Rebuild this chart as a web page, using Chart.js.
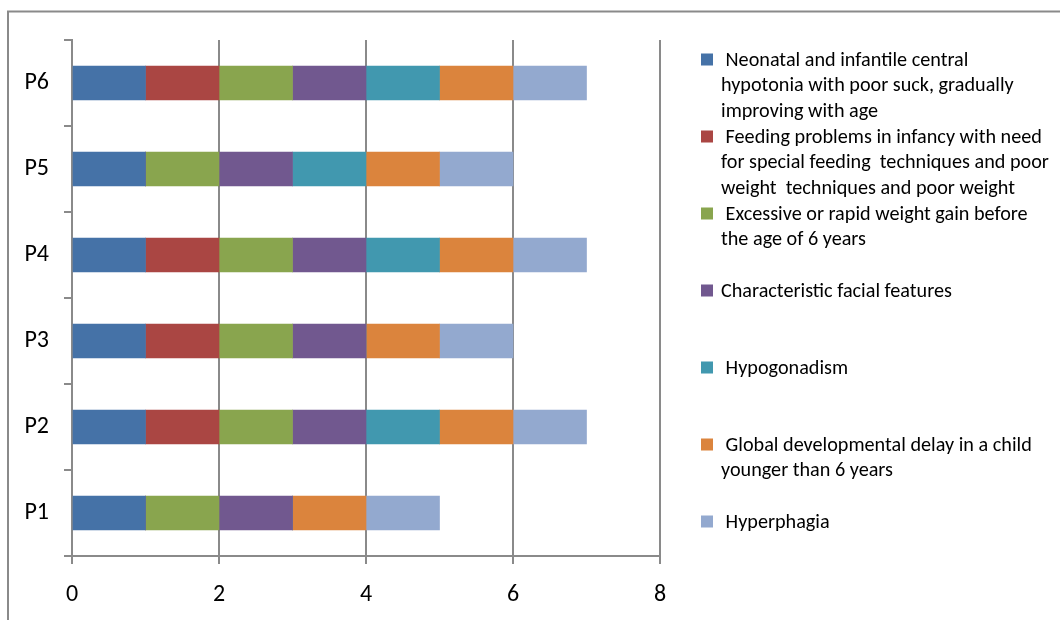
<!DOCTYPE html>
<html>
<head>
<meta charset="utf-8">
<script src="https://cdn.jsdelivr.net/npm/chart.js@4/dist/chart.umd.min.js"></script>
<style>
  html, body { margin: 0; padding: 0; background: #fff; }
  canvas { display: block; }
</style>
</head>
<body>
<canvas id="chart" width="1060" height="620"></canvas>
<script>
// Patients (drawn bottom-up: P1 at the bottom, P6 at the top)
const categories = ['P1', 'P2', 'P3', 'P4', 'P5', 'P6'];

// Criteria present (1) or absent (0) for each patient, in category order
const hypotonia    = [1, 1, 1, 1, 1, 1];
const feeding      = [0, 1, 1, 1, 0, 1];
const weightGain   = [1, 1, 1, 1, 1, 1];
const facial       = [1, 1, 1, 1, 1, 1];
const hypogonadism = [0, 1, 0, 1, 1, 1];
const devDelay     = [1, 1, 1, 1, 1, 1];
const hyperphagia  = [1, 1, 1, 1, 1, 1];

const xTicks = [0, 2, 4, 6, 8];

// Legend text, already wrapped into lines
const seriesNames = [
  [' Neonatal and infantile central', 'hypotonia with poor suck, gradually', 'improving with age'],
  [' Feeding problems in infancy with need', 'for special feeding  techniques and poor', 'weight  techniques and poor weight'],
  [' Excessive or rapid weight gain before', 'the age of 6 years'],
  ['Characteristic facial features'],
  [' Hypogonadism'],
  [' Global developmental delay in a child', 'younger than 6 years'],
  [' Hyperphagia']
];

const seriesValues = [hypotonia, feeding, weightGain, facial, hypogonadism, devDelay, hyperphagia];
const seriesColors = ['#4572A7', '#AA4643', '#89A54E', '#71588F', '#4198AF', '#DB843D', '#93A9CF'];

const FONT = 'Carlito, Calibri, Lato, sans-serif';
const GRID = '#8a8a8a';

// Outer frame (top and left edges)
const framePlugin = {
  id: 'frame',
  beforeDraw(chart) {
    const ctx = chart.ctx;
    ctx.save();
    ctx.fillStyle = '#fff';
    ctx.fillRect(0, 0, chart.width, chart.height);
    ctx.strokeStyle = GRID;
    ctx.lineWidth = 2;
    ctx.beginPath();
    ctx.moveTo(8, chart.height);
    ctx.lineTo(8, 11.5);
    ctx.lineTo(chart.width, 11.5);
    ctx.stroke();
    ctx.restore();
  }
};

// Legend on the right, one entry every 77px
const legendPlugin = {
  id: 'sideLegend',
  afterDraw(chart) {
    const ctx = chart.ctx;
    ctx.save();
    ctx.font = '20.2px ' + FONT;
    ctx.textBaseline = 'middle';
    chart.data.datasets.forEach((ds, i) => {
      const y0 = 59.5 + i * 77;
      ctx.fillStyle = ds.backgroundColor;
      ctx.fillRect(701, y0 - 6, 12, 12);
      ctx.fillStyle = '#000';
      seriesNames[i].forEach((line, j) => {
        ctx.fillText(line, 721, y0 + 1 + j * 25.5);
      });
    });
    ctx.restore();
  }
};

new Chart(document.getElementById('chart'), {
  type: 'bar',
  data: {
    labels: categories,
    datasets: seriesValues.map((vals, i) => ({
      label: seriesNames[i].join(' ').trim(),
      data: vals,
      backgroundColor: seriesColors[i],
      borderWidth: 0,
      barThickness: 34
    }))
  },
  options: {
    indexAxis: 'y',
    responsive: false,
    animation: false,
    layout: { padding: { left: 0, top: 40, right: 400, bottom: 0 } },
    plugins: {
      legend: { display: false },
      tooltip: { enabled: false }
    },
    scales: {
      x: {
        stacked: true,
        min: 0,
        max: 8,
        afterBuildTicks(scale) { scale.ticks = xTicks.map(v => ({ value: v })); },
        afterFit(scale) { scale.height = 64; },
        grid: { color: GRID, lineWidth: 2, tickLength: 8, drawTicks: true },
        border: { color: GRID, width: 2 },
        ticks: { color: '#000', font: { family: FONT, size: 24 }, padding: 17 }
      },
      y: {
        stacked: true,
        reverse: true,
        offset: true,
        afterFit(scale) { scale.width = 72; },
        grid: { drawOnChartArea: false, offset: true, color: GRID, lineWidth: 2, tickLength: 8 },
        border: { color: GRID, width: 2 },
        ticks: { color: '#000', font: { family: FONT, size: 24 }, padding: 15 }
      }
    }
  },
  plugins: [framePlugin, legendPlugin]
});
</script>
</body>
</html>
